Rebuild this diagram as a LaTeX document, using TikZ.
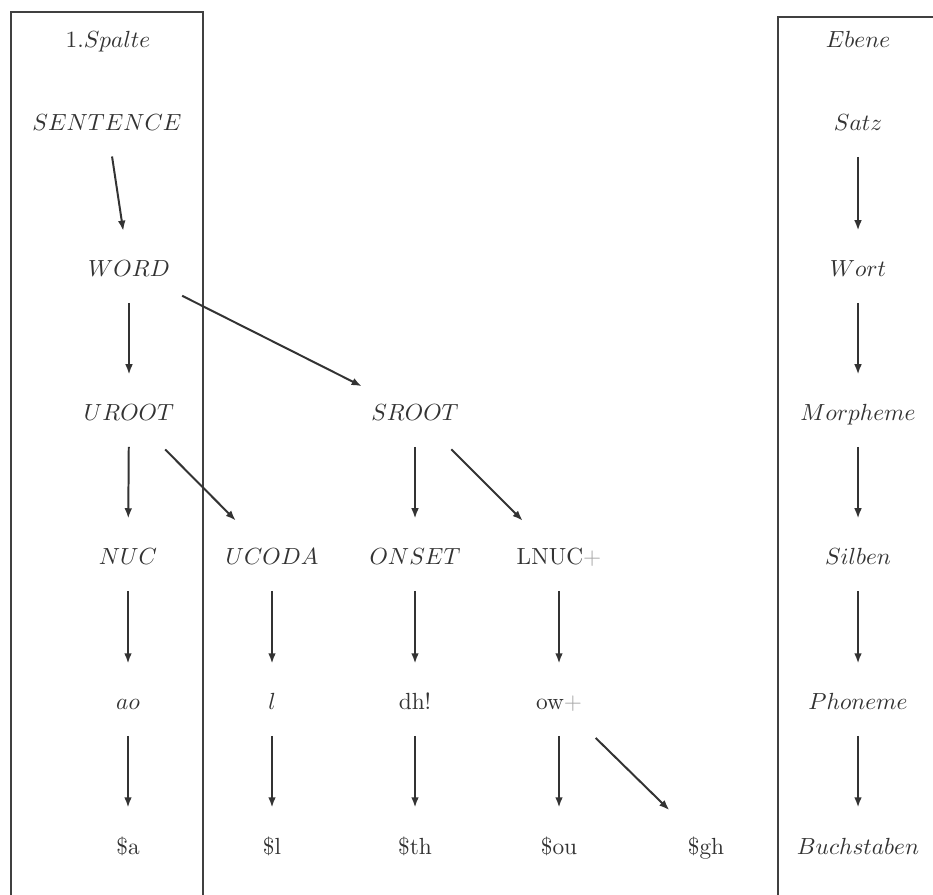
\documentclass[tikz,border=0pt]{standalone}
\usetikzlibrary{arrows.meta}
\begin{document}
\begin{tikzpicture}[x=0.4285pt,y=-0.4285pt,
  lbl/.style={inner sep=0pt,text height=6.83pt,text depth=0pt,text=black!80},
  arr/.style={draw=black!80,line width=0.85pt,-{Latex[length=4.4pt,width=3.3pt]}},
  varr/.style={arr,shorten <=14.5pt,shorten >=16.5pt},
  darr/.style={arr,shorten <=22pt,shorten >=22pt},
  larr/.style={arr,shorten <=25.5pt,shorten >=25.5pt},
  frame/.style={draw=black!75,line width=0.9pt}]
\useasboundingbox (0,0) rectangle (933,894);
\clip (0,0) rectangle (933,894);

% column frames, open at the bottom
\draw[frame] (11,910) -- (11,12) -- (203,12) -- (203,910);
\draw[frame] (778,910) -- (778,17) -- (950,17);

% left-hand column and derivation tree
\node[lbl] (spalte)   at (108,40)  {1.$Spalte$};
\node[lbl] (sentence) at (107,123) {$SENTENCE$};
\node[lbl] (word)     at (129,269) {$WORD$};
\node[lbl] (uroot)    at (129,413) {$UROOT$};
\node[lbl] (sroot)    at (415,413) {$SROOT$};
\node[lbl] (nuc)      at (128,557) {$NUC$};
\node[lbl] (ucoda)    at (272,557) {$UCODA$};
\node[lbl] (onset)    at (415,557) {$ONSET$};
\node[lbl] (lnuc)     at (559,557) {LNUC\textcolor{black!35}{+}};
\node[lbl] (ao)       at (128,702) {$ao$};
\node[lbl] (l)        at (272,702) {$l$};
\node[lbl] (dh)       at (415,702) {dh!};
\node[lbl] (ow)       at (559,702) {ow\textcolor{black!35}{+}};
\node[lbl] (sa)       at (128,846) {\$a};
\node[lbl] (sl)       at (272,846) {\$l};
\node[lbl] (sth)      at (415,846) {\$th};
\node[lbl] (sou)      at (559,846) {\$ou};
\node[lbl] (sgh)      at (706,846) {\$gh};

% right-hand column of levels
\node[lbl] (ebene)  at (858,40)  {$Ebene$};
\node[lbl] (satz)   at (858,123) {$Satz$};
\node[lbl] (wort)   at (858,269) {$Wort$};
\node[lbl] (morph)  at (858,413) {$Morpheme$};
\node[lbl] (silben) at (858,557) {$Silben$};
\node[lbl] (phon)   at (858,702) {$Phoneme$};
\node[lbl] (buch)   at (858,846) {$Buchstaben$};

% tree connectors
\draw[varr] (sentence.center) -- (word.center);
\draw[varr] (word.center) -- (uroot.center);
\draw[larr] (word.center) -- (sroot.center);
\draw[varr] (uroot.center) -- (nuc.center);
\draw[darr] (uroot.center) -- (ucoda.center);
\draw[varr] (sroot.center) -- (onset.center);
\draw[darr] (sroot.center) -- (lnuc.center);
\draw[varr] (nuc.center) -- (ao.center);
\draw[varr] (ucoda.center) -- (l.center);
\draw[varr] (onset.center) -- (dh.center);
\draw[varr] (lnuc.center) -- (ow.center);
\draw[varr] (ao.center) -- (sa.center);
\draw[varr] (l.center) -- (sl.center);
\draw[varr] (dh.center) -- (sth.center);
\draw[varr] (ow.center) -- (sou.center);
\draw[darr] (ow.center) -- (sgh.center);

% level connectors
\draw[varr] (satz.center) -- (wort.center);
\draw[varr] (wort.center) -- (morph.center);
\draw[varr] (morph.center) -- (silben.center);
\draw[varr] (silben.center) -- (phon.center);
\draw[varr] (phon.center) -- (buch.center);
\end{tikzpicture}
\end{document}
